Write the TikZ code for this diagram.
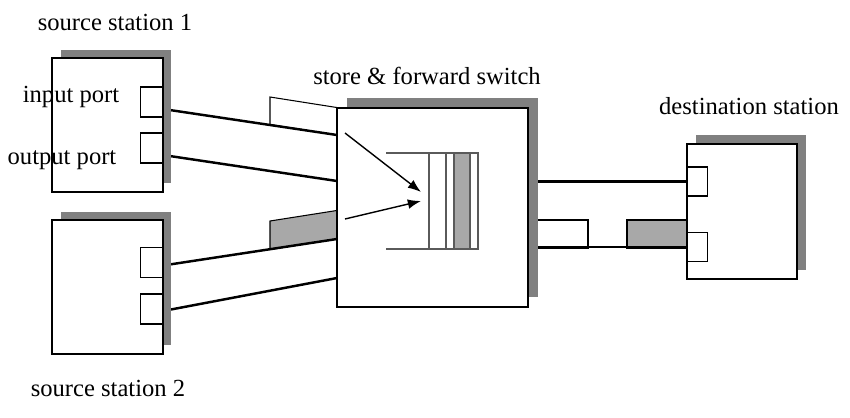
\documentclass[tikz,border=0pt]{standalone}
\usepackage{fontspec}
\setmainfont{Liberation Serif}
\usetikzlibrary{arrows.meta, calc, shadows, backgrounds}
\definecolor{shadowgray}{RGB}{128,128,128}
\definecolor{packetgray}{RGB}{168,168,168}
\definecolor{slotline}{RGB}{90,90,90}

\tikzset{
  station/.style={draw, line width=0.75pt, fill=white, inner sep=0pt,
    minimum width=2.22cm, minimum height=2.68cm,
    drop shadow={shadow xshift=#1, shadow yshift=#1,
                 fill=shadowgray, opacity=1}},
  station/.default=0.17cm,
  port/.style={draw, line width=0.75pt, fill=white, inner sep=0pt,
    minimum width=0.44cm, minimum height=0.6cm},
  nametext/.style={font=\fontsize{14}{16}\selectfont, inner sep=0pt},
  link/.style={line width=1.4pt},
  packet/.style={draw, line width=0.6pt},
  slot/.style={draw=slotline, line width=0.7pt},
  feed/.style={line width=0.8pt, -{Latex[length=7.5pt, width=5.5pt]}}
}

\begin{document}
\begin{tikzpicture}[x=0.02cm, y=-0.02cm]
  \useasboundingbox (0,0) rectangle (850,417);
  %---- stations and switch ----------------------------------------------
  \node[station] (src1) at (107.5,125) {};
  \node[station] (src2) at (107.5,287) {};
  \node[station=0.2cm, minimum width=3.82cm, minimum height=3.98cm]
    (sw) at (432.5,207.5) {};
  \node[station=0.18cm, minimum width=2.2cm, minimum height=2.7cm]
    (dst) at (742,211.5) {};
  %---- ports ------------------------------------------------------------
  \node[port, anchor=east] (s1in)  at (163,102) {};
  \node[port, anchor=east] (s1out) at (163,148) {};
  \node[port, anchor=east] (s2in)  at (163,262.5) {};
  \node[port, anchor=east] (s2out) at (163,309) {};
  \node[port, anchor=west, minimum width=0.4cm, minimum height=0.58cm]
    (d1) at (687,181.5) {};
  \node[port, anchor=west, minimum width=0.4cm, minimum height=0.58cm]
    (d2) at (687,247) {};
  %---- entry points on the switch ---------------------------------------
  \coordinate (swa) at (337,135);
  \coordinate (swb) at (337,181);
  \coordinate (swc) at (337,239);
  \coordinate (swd) at (337,278);
  %---- buffer inside the switch -----------------------------------------
  \draw[slot] (386,153) -- (478,153);
  \draw[slot] (386,249) -- (478,249);
  \foreach \xa/\xb/\col in {429/446/white, 446/454/white,
                             454/470/packetgray, 470/478/white}
    \draw[slot, fill=\col] (\xa,153) rectangle (\xb,249);
  \coordinate (fa) at (345,133);
  \coordinate (fb) at (345,219);
  \coordinate (ha) at (421,192);
  \coordinate (hb) at (421,201);
  \draw[feed] (fa) -- (ha);
  \draw[feed] (fb) -- (hb);
  %---- packets and links, behind the boxes ------------------------------
  \begin{scope}[on background layer]
    \draw[packet, fill=white]
      (270,97) -- (270,124.5) -- (345,136.3) -- (345,108.8) -- cycle;
    \draw[packet, fill=packetgray]
      (270,221) -- (270,249.5) -- (345,237.7) -- (345,209.2) -- cycle;
    \draw[packet, fill=white] (530,220) rectangle (588,248);
    \draw[packet, fill=packetgray] (627,220) rectangle (687,248);
    \draw[link] ($(s1in.east)+(0,7)$) -- (swa);
    \draw[link] ($(s1out.east)+(0,7)$) -- (swb);
    \draw[link] ($(s2in.east)+(0,3)$) -- (swc);
    \draw[link] ($(s2out.east)+(0,2)$) -- (swd);
    \draw[link] (d1.west) -- (d1.west -| sw.east);
    \draw[link] (d2.west) -- (d2.west -| sw.east);
  \end{scope}
  %---- texts ------------------------------------------------------------
  \node[nametext] (tsrc1) at (115,22) {source station 1};
  \node[nametext] (tin)   at (71,97)  {input port};
  \node[nametext] (tout)  at (62,160) {output port};
  \node[nametext] (tsw)   at (427,76) {store \& forward switch};
  \node[nametext] (tdst)  at (749,106) {destination station};
  \node[nametext] (tsrc2) at (108,388) {source station 2};
\end{tikzpicture}
\end{document}
